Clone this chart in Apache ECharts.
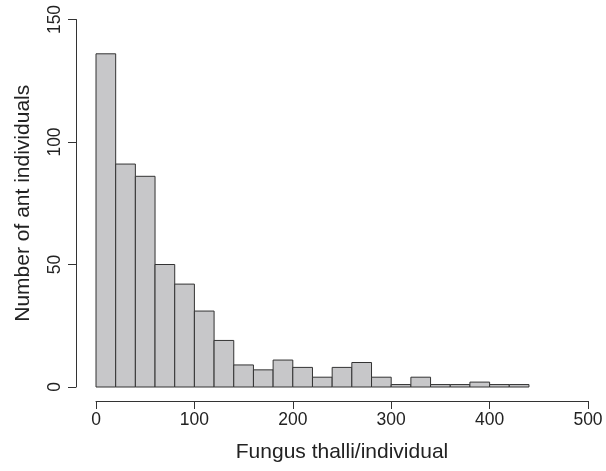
<!DOCTYPE html>
<html>
<head>
<meta charset="utf-8">
<script src="https://cdn.jsdelivr.net/npm/echarts@6/dist/echarts.min.js"></script>
<style>
html,body{margin:0;padding:0;background:#fff;}
#chart{width:606px;height:471px;}
</style>
</head>
<body>
<div id="chart"></div>
<script>
// Histogram bins (fungus thalli per individual), width 20
const binStarts = [0,20,40,60,80,100,120,140,160,180,200,220,240,260,280,300,320,340,360,380,400,420];
const binWidth = 20;
const counts = [136,91,86,50,42,31,19,9,7,11,8,4,8,10,4,1,4,1,1,2,1,1];
const xTicks = [0,100,200,300,400,500];
const yTicks = [0,50,100,150];

const data = binStarts.map((s, i) => [s, s + binWidth, counts[i]]);

const chart = echarts.init(document.getElementById('chart'));
const font = 'Liberation Sans, Arial, Helvetica, sans-serif';
chart.setOption({
  animation: false,
  backgroundColor: '#ffffff',
  grid: {left: 96, right: 18, top: 19.5, bottom: 84},
  xAxis: {
    type: 'value', min: xTicks[0], max: xTicks[xTicks.length-1], interval: 100,
    offset: 14,
    name: 'Fungus thalli/individual', nameLocation: 'middle', nameGap: 41,
    nameTextStyle: {fontFamily: font, fontSize: 21, color: '#222'},
    axisLine: {show: true, onZero: false, lineStyle: {color: '#333', width: 1}},
    axisTick: {show: true, length: 8, lineStyle: {color: '#333', width: 1}},
    axisLabel: {fontFamily: font, fontSize: 17.5, color: '#222', margin: 10},
    splitLine: {show: false}
  },
  yAxis: {
    type: 'value', min: yTicks[0], max: yTicks[yTicks.length-1], interval: 50,
    offset: 20,
    name: 'Number of ant individuals', nameLocation: 'middle', nameGap: 42,
    nameTextStyle: {fontFamily: font, fontSize: 21, color: '#222'},
    axisLine: {show: true, onZero: false, lineStyle: {color: '#333', width: 1}},
    axisTick: {show: true, length: 8, lineStyle: {color: '#333', width: 1}},
    axisLabel: {fontFamily: font, fontSize: 17.5, color: '#222', margin: 12, rotate: 90},
    splitLine: {show: false}
  },
  series: [{
    type: 'custom',
    data: data,
    encode: {x: [0, 1], y: 2},
    renderItem: function (params, api) {
      const p0 = api.coord([api.value(0), api.value(2)]);
      const p1 = api.coord([api.value(1), 0]);
      return {
        type: 'rect',
        shape: {x: p0[0], y: p0[1], width: p1[0] - p0[0], height: p1[1] - p0[1]},
        style: {fill: '#c7c7c9', stroke: '#333', lineWidth: 1}
      };
    }
  }]
});
</script>
</body>
</html>
